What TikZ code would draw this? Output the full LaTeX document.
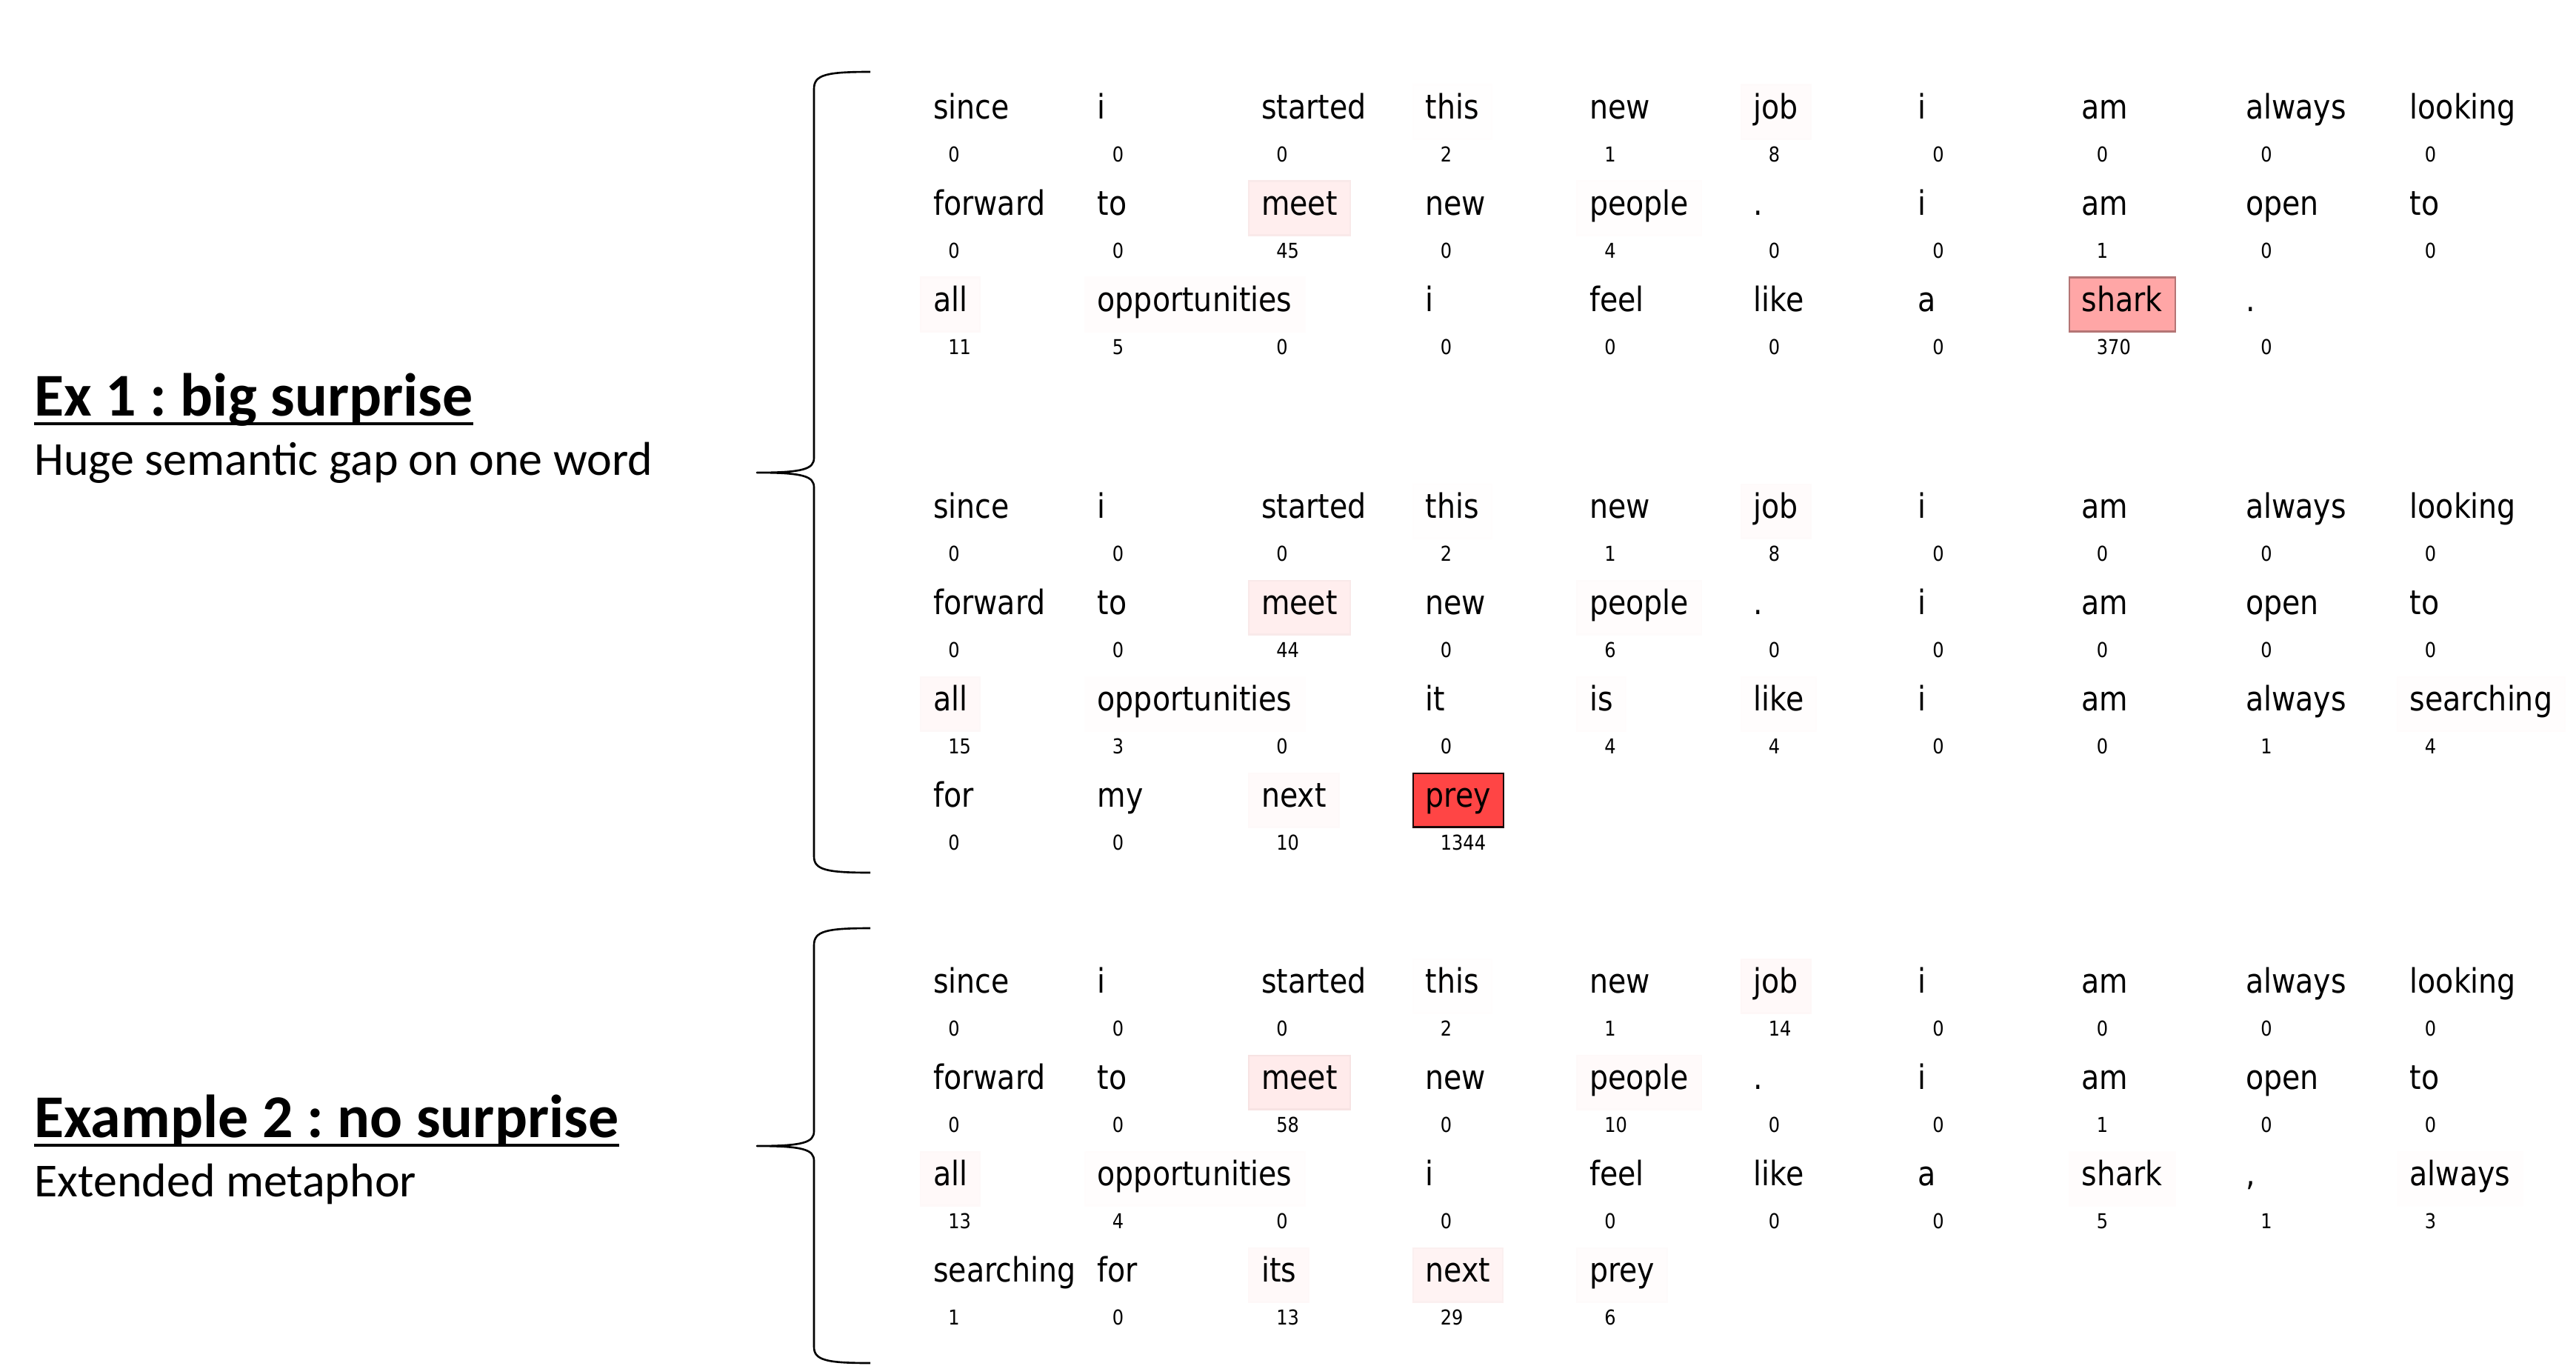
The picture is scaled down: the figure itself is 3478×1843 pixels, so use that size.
\documentclass[tikz,border=0pt]{standalone}
\usepackage{fontspec}
\usetikzlibrary{calc}
\newfontfamily\dvs{DejaVu Sans}
\newfontfamily\calib{Carlito}
\frenchspacing
\newcommand\wtxt[1]{\scalebox{1}[1.15]{#1}}
\tikzset{
  word/.style={anchor=west, inner xsep=9.7pt, inner ysep=0pt, text height=25.9pt, text depth=15.6pt,
    line width=1.2pt, font=\dvs\fontsize{22.5}{26}\selectfont},
  num/.style={anchor=base west, inner sep=0pt, font=\dvs\fontsize{13.7}{16}\selectfont},
  title/.style={anchor=base west, inner sep=0pt, font=\calib\bfseries\fontsize{46.7}{56}\selectfont},
  subtitle/.style={anchor=base west, inner sep=0pt, font=\calib\fontsize{36.4}{44}\selectfont},
  brace/.style={line width=1.5pt, line join=round},
  uline/.style={line width=2.8pt}
}
\newcommand\tk[5]{%
  \pgfmathsetmacro\tx{1242+221.5*#2}%
  \ifnum#5>1
    \pgfmathsetmacro\tp{min(73,98*(#5/1344)^0.8)}%
    \pgfmathsetmacro\tq{min(100,\tp^1.5/7)}%
    \colorlet{tf}{red!\tp!white}\colorlet{td}{black!\tq!tf}%
    \node[word, fill=tf, draw=td] (#1) at (\tx,#3) {\wtxt{#4}};
  \else
    \node[word] (#1) at (\tx,#3) {\wtxt{#4}};
  \fi
  \node[num] (#1n) at (\tx+38,#3+67) {\wtxt{#5}};
}
\begin{document}
\begin{tikzpicture}[x=0.02cm,y=-0.02cm]
\path[use as bounding box, fill=white] (0,0) rectangle (3478,1843);

% left labels
\node[title] (t1) at (46,561) {Ex 1 : big surprise};
\draw[uline] ($(t1.base west)+(0,11)$) -- ($(t1.base east)+(0,11)$);
\node[subtitle] (s1) at (46,641) {Huge semantic gap on one word};
\node[title] (t2) at (46,1535) {Example 2 : no surprise};
\draw[uline] ($(t2.base west)+(0,11)$) -- ($(t2.base east)+(0,11)$);
\node[subtitle] (s2) at (46,1615) {Extended metaphor};

% braces
\coordinate (b1top) at (1175,97);
\coordinate (b1tip) at (1022,638);
\coordinate (b1bot) at (1175,1178);
\draw[brace] (b1top) .. controls (1115,97) and (1099,101) .. (1099,120)
  -- (1099,618) .. controls (1099,633) and (1085,638) .. (b1tip)
  .. controls (1085,638) and (1099,643) .. (1099,658)
  -- (1099,1156) .. controls (1099,1174) and (1115,1178) .. (b1bot);
\coordinate (b2top) at (1175,1253);
\coordinate (b2tip) at (1022,1547);
\coordinate (b2bot) at (1175,1840);
\draw[brace] (b2top) .. controls (1115,1253) and (1099,1257) .. (1099,1276)
  -- (1099,1527) .. controls (1099,1542) and (1085,1547) .. (b2tip)
  .. controls (1085,1547) and (1099,1552) .. (1099,1567)
  -- (1099,1818) .. controls (1099,1836) and (1115,1840) .. (b2bot);

% block 1
\tk{a00}{0}{151}{since}{0}
\tk{a01}{1}{151}{i}{0}
\tk{a02}{2}{151}{started}{0}
\tk{a03}{3}{151}{this}{2}
\tk{a04}{4}{151}{new}{1}
\tk{a05}{5}{151}{job}{8}
\tk{a06}{6}{151}{i}{0}
\tk{a07}{7}{151}{am}{0}
\tk{a08}{8}{151}{always}{0}
\tk{a09}{9}{151}{looking}{0}
\tk{a10}{0}{281}{forward}{0}
\tk{a11}{1}{281}{to}{0}
\tk{a12}{2}{281}{meet}{45}
\tk{a13}{3}{281}{new}{0}
\tk{a14}{4}{281}{people}{4}
\tk{a15}{5}{281}{.}{0}
\tk{a16}{6}{281}{i}{0}
\tk{a17}{7}{281}{am}{1}
\tk{a18}{8}{281}{open}{0}
\tk{a19}{9}{281}{to}{0}
\tk{a20}{0}{411}{all}{11}
\tk{a21}{1}{411}{opportunities}{5}
\tk{a22}{2}{411}{}{0}
\tk{a23}{3}{411}{i}{0}
\tk{a24}{4}{411}{feel}{0}
\tk{a25}{5}{411}{like}{0}
\tk{a26}{6}{411}{a}{0}
\tk{a27}{7}{411}{shark}{370}
\tk{a28}{8}{411}{.}{0}

% block 2
\tk{b00}{0}{690}{since}{0}
\tk{b01}{1}{690}{i}{0}
\tk{b02}{2}{690}{started}{0}
\tk{b03}{3}{690}{this}{2}
\tk{b04}{4}{690}{new}{1}
\tk{b05}{5}{690}{job}{8}
\tk{b06}{6}{690}{i}{0}
\tk{b07}{7}{690}{am}{0}
\tk{b08}{8}{690}{always}{0}
\tk{b09}{9}{690}{looking}{0}
\tk{b10}{0}{820}{forward}{0}
\tk{b11}{1}{820}{to}{0}
\tk{b12}{2}{820}{meet}{44}
\tk{b13}{3}{820}{new}{0}
\tk{b14}{4}{820}{people}{6}
\tk{b15}{5}{820}{.}{0}
\tk{b16}{6}{820}{i}{0}
\tk{b17}{7}{820}{am}{0}
\tk{b18}{8}{820}{open}{0}
\tk{b19}{9}{820}{to}{0}
\tk{b20}{0}{950}{all}{15}
\tk{b21}{1}{950}{opportunities}{3}
\tk{b22}{2}{950}{}{0}
\tk{b23}{3}{950}{it}{0}
\tk{b24}{4}{950}{is}{4}
\tk{b25}{5}{950}{like}{4}
\tk{b26}{6}{950}{i}{0}
\tk{b27}{7}{950}{am}{0}
\tk{b28}{8}{950}{always}{1}
\tk{b29}{9}{950}{searching}{4}
\tk{b30}{0}{1080}{for}{0}
\tk{b31}{1}{1080}{my}{0}
\tk{b32}{2}{1080}{next}{10}
\tk{b33}{3}{1080}{prey}{1344}

% block 3
\tk{c00}{0}{1331}{since}{0}
\tk{c01}{1}{1331}{i}{0}
\tk{c02}{2}{1331}{started}{0}
\tk{c03}{3}{1331}{this}{2}
\tk{c04}{4}{1331}{new}{1}
\tk{c05}{5}{1331}{job}{14}
\tk{c06}{6}{1331}{i}{0}
\tk{c07}{7}{1331}{am}{0}
\tk{c08}{8}{1331}{always}{0}
\tk{c09}{9}{1331}{looking}{0}
\tk{c10}{0}{1461}{forward}{0}
\tk{c11}{1}{1461}{to}{0}
\tk{c12}{2}{1461}{meet}{58}
\tk{c13}{3}{1461}{new}{0}
\tk{c14}{4}{1461}{people}{10}
\tk{c15}{5}{1461}{.}{0}
\tk{c16}{6}{1461}{i}{0}
\tk{c17}{7}{1461}{am}{1}
\tk{c18}{8}{1461}{open}{0}
\tk{c19}{9}{1461}{to}{0}
\tk{c20}{0}{1591}{all}{13}
\tk{c21}{1}{1591}{opportunities}{4}
\tk{c22}{2}{1591}{}{0}
\tk{c23}{3}{1591}{i}{0}
\tk{c24}{4}{1591}{feel}{0}
\tk{c25}{5}{1591}{like}{0}
\tk{c26}{6}{1591}{a}{0}
\tk{c27}{7}{1591}{shark}{5}
\tk{c28}{8}{1591}{,}{1}
\tk{c29}{9}{1591}{always}{3}
\tk{c30}{0}{1721}{searching}{1}
\tk{c31}{1}{1721}{for}{0}
\tk{c32}{2}{1721}{its}{13}
\tk{c33}{3}{1721}{next}{29}
\tk{c34}{4}{1721}{prey}{6}
\end{tikzpicture}
\end{document}
